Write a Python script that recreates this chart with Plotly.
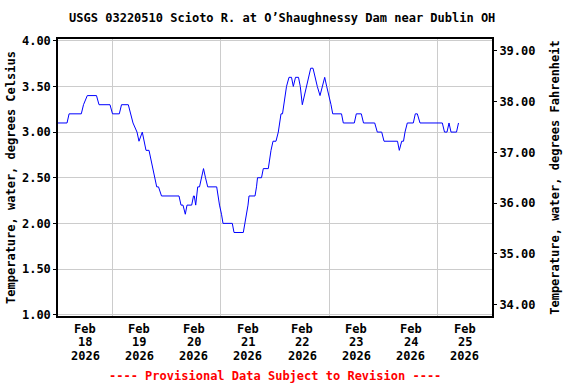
import pandas as pd
import plotly.graph_objects as go

# Hours since 2026-02-18 00:00 and water temperature (deg C) at line vertices
hours = [0, 4.0, 4.9, 10.31, 11.28, 12.96, 17.03, 18.14, 23.0, 24.11, 27.12, 28.09,
         31.10, 32.07, 33.18, 34.95, 35.83, 37.29, 38.05, 38.93, 40.26, 41.14, 41.81,
         42.91, 43.67, 44.46, 45.79, 53.53, 54.42, 55.30, 56.32, 57.07, 59.15, 59.95,
         60.30, 60.92, 61.80, 62.60, 63.48, 64.37, 65.25, 66.23, 70.21, 70.78, 71.45,
         72.33, 72.99, 77.11, 77.86, 81.98, 82.73, 83.61, 84.06, 84.50, 87.15, 87.82,
         88.26, 90.03, 90.83, 93.04, 93.57, 94.23, 95.12, 96.44, 97.46, 97.99, 98.66,
         99.32, 99.98, 100.42, 101.09, 102.19, 103.30, 104.10, 105.07, 106.40, 107.19,
         108.08, 108.96, 109.94, 110.91, 111.80, 112.81, 113.70, 114.72, 115.91, 116.93,
         117.99, 118.87, 119.89, 120.78, 121.53, 125.42, 126.22, 131.08, 131.97, 134.18,
         135.15, 140.11, 141.26, 143.21, 144.22, 150.20, 150.99, 152.05, 152.85, 153.51,
         154.53, 157.19, 158.07, 158.96, 160.15, 170.02, 170.99, 172.09, 172.98, 173.86,
         176.30, 177.18]
temps_c = [3.1, 3.1, 3.2, 3.2, 3.3, 3.4, 3.4, 3.3, 3.3, 3.2, 3.2, 3.3,
           3.3, 3.2, 3.1, 3.0, 2.9, 3.0, 2.9, 2.8, 2.8, 2.7, 2.6,
           2.5, 2.4, 2.4, 2.3, 2.3, 2.2, 2.2, 2.1, 2.2, 2.2, 2.3,
           2.3, 2.2, 2.4, 2.4, 2.5, 2.6, 2.5, 2.4, 2.4, 2.3, 2.2,
           2.1, 2.0, 2.0, 1.9, 1.9, 2.0, 2.1, 2.2, 2.3, 2.3, 2.4,
           2.5, 2.5, 2.6, 2.6, 2.7, 2.8, 2.9, 2.9, 3.0, 3.1, 3.2,
           3.2, 3.3, 3.4, 3.5, 3.6, 3.6, 3.5, 3.6, 3.6, 3.5,
           3.3, 3.4, 3.5, 3.6, 3.7, 3.7, 3.6, 3.5, 3.4, 3.5,
           3.6, 3.5, 3.4, 3.3, 3.2, 3.2, 3.1, 3.1, 3.2, 3.2,
           3.1, 3.1, 3.0, 3.0, 2.9, 2.9, 2.8, 2.9, 2.9, 3.0,
           3.1, 3.1, 3.2, 3.2, 3.1, 3.1, 3.0, 3.0, 3.1, 3.0,
           3.0, 3.1]

month_label = "Feb"
year_label = "2026"
day_labels = ["18", "19", "20", "21", "22", "23", "24", "25"]
c_ticks = [1.0, 1.5, 2.0, 2.5, 3.0, 3.5, 4.0]
f_ticks = [34, 35, 36, 37, 38, 39]
c_range = [0.985, 4.02]

start = pd.Timestamp("2026-02-18 00:00")
times = [start + pd.Timedelta(hours=h) for h in hours]
temps_f = [c * 1.8 + 32 for c in temps_c]
f_range = [c * 1.8 + 32 for c in c_range]

FONT = "DejaVu Sans Mono"
BFONT = dict(family=FONT, size=12, color="black", weight="bold")

fig = go.Figure()
fig.add_trace(go.Scatter(x=times, y=temps_c, mode="lines",
                         line=dict(color="#0000FF", width=1), showlegend=False,
                         hoverinfo="skip"))
fig.add_trace(go.Scatter(x=times, y=temps_f, mode="lines", yaxis="y2",
                         line=dict(color="rgba(0,0,0,0)", width=1), showlegend=False,
                         hoverinfo="skip"))

label_days = [start + pd.Timedelta(hours=12 + 24 * i) for i in range(len(day_labels))]
annotations = []
for t, d in zip(label_days, day_labels):
    for text, yy in ((month_label, -0.047), (d, -0.095), (year_label, -0.143)):
        annotations.append(dict(text=text, x=t, xref="x", y=yy, yref="paper",
                                xanchor="center", yanchor="middle", showarrow=False,
                                font=BFONT))
annotations.append(dict(text="---- Provisional Data Subject to Revision ----",
                        xref="paper", yref="paper", x=0.5, y=-0.217,
                        xanchor="center", yanchor="middle", showarrow=False,
                        font=dict(family=FONT, size=12, color="#FF0000", weight="bold")))

fig.update_layout(
    width=576, height=384,
    margin=dict(l=58, r=84, t=39, b=68, autoexpand=False),
    paper_bgcolor="white", plot_bgcolor="white",
    font=BFONT,
    title=dict(text="USGS 03220510 Scioto R. at O\u2019Shaughnessy Dam near Dublin OH",
               x=0.49, xanchor="center", y=0.953, yanchor="middle", font=BFONT),
    xaxis=dict(range=[start, start + pd.Timedelta(days=8)], automargin=False,
               showticklabels=False, showgrid=False, ticks="", showline=True,
               linecolor="black", linewidth=1.5, mirror=True, zeroline=False,
               minor=dict(tick0=start, dtick=86400000, showgrid=True,
                          gridcolor="#cccccc", gridwidth=1, ticks="")),
    yaxis=dict(range=c_range, tickmode="array", tickvals=c_ticks, automargin=False,
               tickformat=".2f", showgrid=True, gridcolor="#cccccc", gridwidth=1,
               showline=True, linecolor="black", linewidth=1.5, mirror=True,
               zeroline=False, ticks="outside", ticklen=3, tickcolor="black",
               title=dict(text="Temperature, water, degrees Celsius", font=BFONT,
                          standoff=4),
               tickfont=BFONT),
    yaxis2=dict(range=f_range, overlaying="y", side="right", tickmode="array",
                automargin=False, tickvals=f_ticks, tickformat=".2f", showgrid=False,
                zeroline=False, showline=False, ticks="outside", ticklen=4,
                tickcolor="black",
                title=dict(text="Temperature, water, degrees Fahrenheit", font=BFONT,
                           standoff=16),
                tickfont=BFONT),
    annotations=annotations,
)

fig.write_html("out.html", config={"displayModeBar": False},
               post_script="document.body.style.margin='0';document.body.style.padding='0';")
